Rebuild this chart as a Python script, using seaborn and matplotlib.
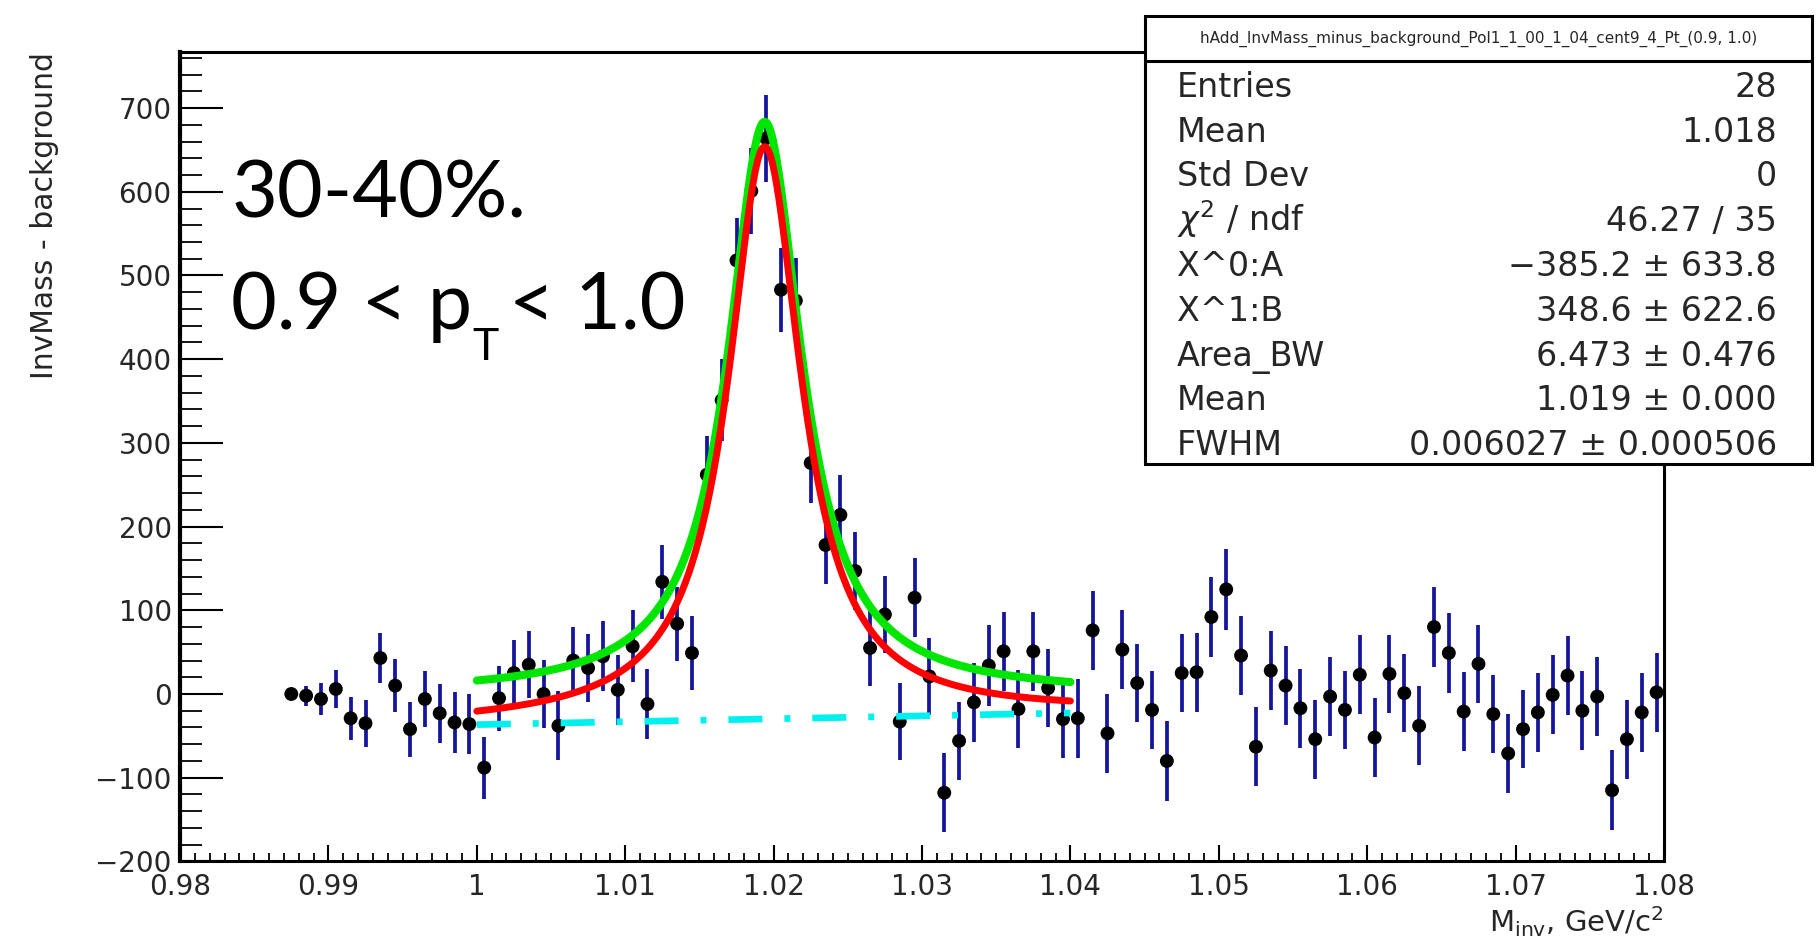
import numpy as np
import matplotlib
matplotlib.use("Agg")
import matplotlib.pyplot as plt
import seaborn as sns
from matplotlib.ticker import FixedLocator, FixedFormatter, MultipleLocator
from matplotlib.patches import Rectangle
from matplotlib.lines import Line2D

# ---------------- data ----------------
bin_centers = [
    0.9875, 0.9885, 0.9895, 0.9905, 0.9915, 0.9925, 0.9935, 0.9945, 0.9955, 0.9965,
    0.9975, 0.9985, 0.9995, 1.0005, 1.0015, 1.0025, 1.0035, 1.0045, 1.0055, 1.0065,
    1.0075, 1.0085, 1.0095, 1.0105, 1.0115, 1.0125, 1.0135, 1.0145, 1.0155, 1.0165,
    1.0175, 1.0185, 1.0195, 1.0205, 1.0215, 1.0225, 1.0235, 1.0245, 1.0255, 1.0265,
    1.0275, 1.0285, 1.0295, 1.0305, 1.0315, 1.0325, 1.0335, 1.0345, 1.0355, 1.0365,
    1.0375, 1.0385, 1.0395, 1.0405, 1.0415, 1.0425, 1.0435, 1.0445, 1.0455, 1.0465,
    1.0475, 1.0485, 1.0495, 1.0505, 1.0515, 1.0525, 1.0535, 1.0545, 1.0555, 1.0565,
    1.0575, 1.0585, 1.0595, 1.0605, 1.0615, 1.0625, 1.0635, 1.0645, 1.0655, 1.0665,
    1.0675, 1.0685, 1.0695, 1.0705, 1.0715, 1.0725, 1.0735, 1.0745, 1.0755, 1.0765,
    1.0775, 1.0785, 1.0795,
]
counts = [
    0, -2, -6, 6, -29, -35, 43, 10, -42, -6,
    -23, -34, -36, -88, -5, 25, 35, 0, -38, 40,
    31, 45, 5, 57, -12, 134, 84, 49, 262, 351,
    518, 601, 664, 483, 470, 276, 178, 214, 147, 55,
    95, -33, 115, 21, -118, -56, -10, 34, 51, -18,
    51, 7, -30, -29, 76, -47, 53, 13, -19, -80,
    25, 26, 92, 125, 46, -63, 28, 10, -17, -54,
    -3, -19, 23, -52, 24, 1, -38, 80, 49, -21,
    36, -24, -71, -42, -22, -1, 22, -20, -3, -115,
    -54, -22, 2,
]
errors = [
    0, 12, 19, 23, 26, 28, 30, 32, 33, 34,
    35, 36, 36, 37, 39, 40, 40, 41, 41, 40,
    41, 42, 42, 43, 42, 44, 44, 44, 46, 49,
    51, 51, 52, 50, 51, 48, 47, 48, 47, 46,
    46, 46, 47, 46, 47, 47, 47, 48, 47, 47,
    47, 47, 47, 47, 47, 47, 47, 47, 47, 48,
    47, 47, 48, 48, 47, 47, 47, 47, 47, 47,
    47, 47, 47, 47, 47, 47, 47, 48, 48, 47,
    47, 47, 47, 47, 47, 47, 47, 47, 47, 48,
    47, 47, 47,
]

# fit parameters (pol1 background + Breit-Wigner)
fit_range = (1.0, 1.04)
par_A = -385.2
par_B = 348.6
area_bw = 6.473
mean_bw = 1.0194
fwhm_bw = 0.006027

xtick_vals = [0.98, 0.99, 1.00, 1.01, 1.02, 1.03, 1.04, 1.05, 1.06, 1.07, 1.08]
xtick_labels = ["0.98", "0.99", "1", "1.01", "1.02", "1.03", "1.04", "1.05", "1.06", "1.07", "1.08"]
ytick_vals = [-200, -100, 0, 100, 200, 300, 400, 500, 600, 700]
ytick_labels = ["\u2212200", "\u2212100", "0", "100", "200", "300", "400", "500", "600", "700"]

stats_title = "hAdd_InvMass_minus_background_Pol1_1_00_1_04_cent9_4_Pt_(0.9, 1.0)"
stats_names = ["Entries", "Mean", "Std Dev", r"$\chi^{2}$ / ndf", "X^0:A", "X^1:B",
               "Area_BW", "Mean", "FWHM"]
stats_values = ["28", "1.018", "0", "46.27 / 35", "\u2212385.2 \u00b1 633.8",
                "348.6 \u00b1 622.6", "6.473 \u00b1 0.476", "1.019 \u00b1 0.000",
                "0.006027 \u00b1 0.000506"]

# ---------------- style ----------------
sns.set_theme(style="white")
plt.rcParams["font.family"] = ["DejaVu Sans"]
plt.rcParams["axes.edgecolor"] = "black"

W, H = 1818, 950
fig = plt.figure(figsize=(W / 100, H / 100), dpi=100)
ax = fig.add_axes([180 / W, 1 - 861.4 / H, (1664 - 180) / W, (861.4 - 52) / H])

x = np.array(bin_centers)
y = np.array(counts)
e = np.array(errors)

ax.errorbar(x, y, yerr=e, fmt="none", ecolor="#14149c", elinewidth=2.7, capsize=0, zorder=2)
sns.scatterplot(x=x, y=y, ax=ax, color="black", s=100, edgecolor="none", zorder=3, legend=False)

fx = np.linspace(fit_range[0], fit_range[1], 500)
half = fwhm_bw / 2.0
bw = area_bw / np.pi * half / ((fx - mean_bw) ** 2 + half ** 2)
bg = par_A + par_B * fx

sns.lineplot(x=fx, y=bg, ax=ax, color="#00f0f0", lw=4.8, zorder=4, legend=False)
cyan = ax.lines[-1]
cyan.set_dashes([24.5 / 4.8, 15.8 / 4.8, 4.3 / 4.8, 15.8 / 4.8])
cyan.set_dash_capstyle("butt")
sns.lineplot(x=fx, y=bw, ax=ax, color="#00e600", lw=5.8, zorder=5, legend=False)
sns.lineplot(x=fx, y=bw + bg, ax=ax, color="#ff0000", lw=5.0, zorder=6, legend=False)

ax.set_xlim(0.98, 1.08)
ax.set_ylim(-200, 767)

ax.xaxis.set_major_locator(FixedLocator(xtick_vals))
ax.xaxis.set_major_formatter(FixedFormatter(xtick_labels))
ax.xaxis.set_minor_locator(MultipleLocator(0.001))
ax.yaxis.set_major_locator(FixedLocator(ytick_vals))
ax.yaxis.set_major_formatter(FixedFormatter(ytick_labels))
ax.yaxis.set_minor_locator(MultipleLocator(20))

lab_col = "#262626"
ax.tick_params(axis="x", which="major", direction="in", length=11.5, width=1.5, top=False,
               bottom=True, pad=8, labelsize=20, labelcolor=lab_col, color="black")
ax.tick_params(axis="x", which="minor", direction="in", length=5.8, width=1.3, top=False,
               bottom=True, color="black")
ax.tick_params(axis="y", which="major", direction="in", length=31, width=1.5, right=False,
               left=True, pad=6, labelsize=20, labelcolor=lab_col, color="black")
ax.tick_params(axis="y", which="minor", direction="in", length=16, width=1.3, right=False,
               left=True, color="black")
for s in ax.spines.values():
    s.set_linewidth(2.2)
    s.set_color("black")
ax.spines["left"].set_linewidth(3.0)

ax.set_ylabel("InvMass - background", loc="top", fontsize=21.5, labelpad=26, color=lab_col)
ax.set_xlabel(r"M$_\mathregular{inv}$, GeV/c$^\mathregular{2}$", loc="right", fontsize=21,
              labelpad=3, color=lab_col)

# ---------------- stats box ----------------
bx0, bx1, by0, by1 = 1145, 1812, 16, 464
fig.add_artist(Rectangle((bx0 / W, 1 - by1 / H), (bx1 - bx0) / W, (by1 - by0) / H,
                         transform=fig.transFigure, facecolor="white", edgecolor="black",
                         lw=2.2, zorder=10))
fig.add_artist(Line2D([bx0 / W, bx1 / W], [1 - 61 / H, 1 - 61 / H], transform=fig.transFigure,
                      color="black", lw=2.2, zorder=11))
fig.text((bx0 + bx1) / 2 / W, 1 - 39 / H, stats_title, ha="center", va="center",
         fontsize=11, zorder=12)
base0, step = 97.0, 44.75
for i, (n, v) in enumerate(zip(stats_names, stats_values)):
    yb = 1 - (base0 + i * step) / H
    fig.text(1177 / W, yb, n, ha="left", va="baseline", fontsize=24, zorder=12)
    fig.text(1777 / W, yb, v, ha="right", va="baseline", fontsize=24, zorder=12)

# ---------------- slide annotation ----------------
fig.text(232 / W, 1 - 217.3 / H, "30-40%.", family="Lato", fontsize=57, va="baseline",
         color="black")
base2 = 1 - 329.3 / H
t1 = fig.text(231 / W, base2, "0.9 < p", family="Lato", fontsize=57, va="baseline", color="black")
t2 = ax.annotate("T", xy=(1, 1 - 360 / H), xycoords=(t1, "figure fraction"),
                 xytext=(0, 0), textcoords="offset points", family="Lato", fontsize=32,
                 va="baseline", ha="left", color="black", annotation_clip=False)
ax.annotate("< 1.0", xy=(1, base2), xycoords=(t2, "figure fraction"),
            xytext=(8, 0), textcoords="offset points", family="Lato", fontsize=57,
            va="baseline", ha="left", color="black", annotation_clip=False)

fig.savefig("out.png", dpi=100)
